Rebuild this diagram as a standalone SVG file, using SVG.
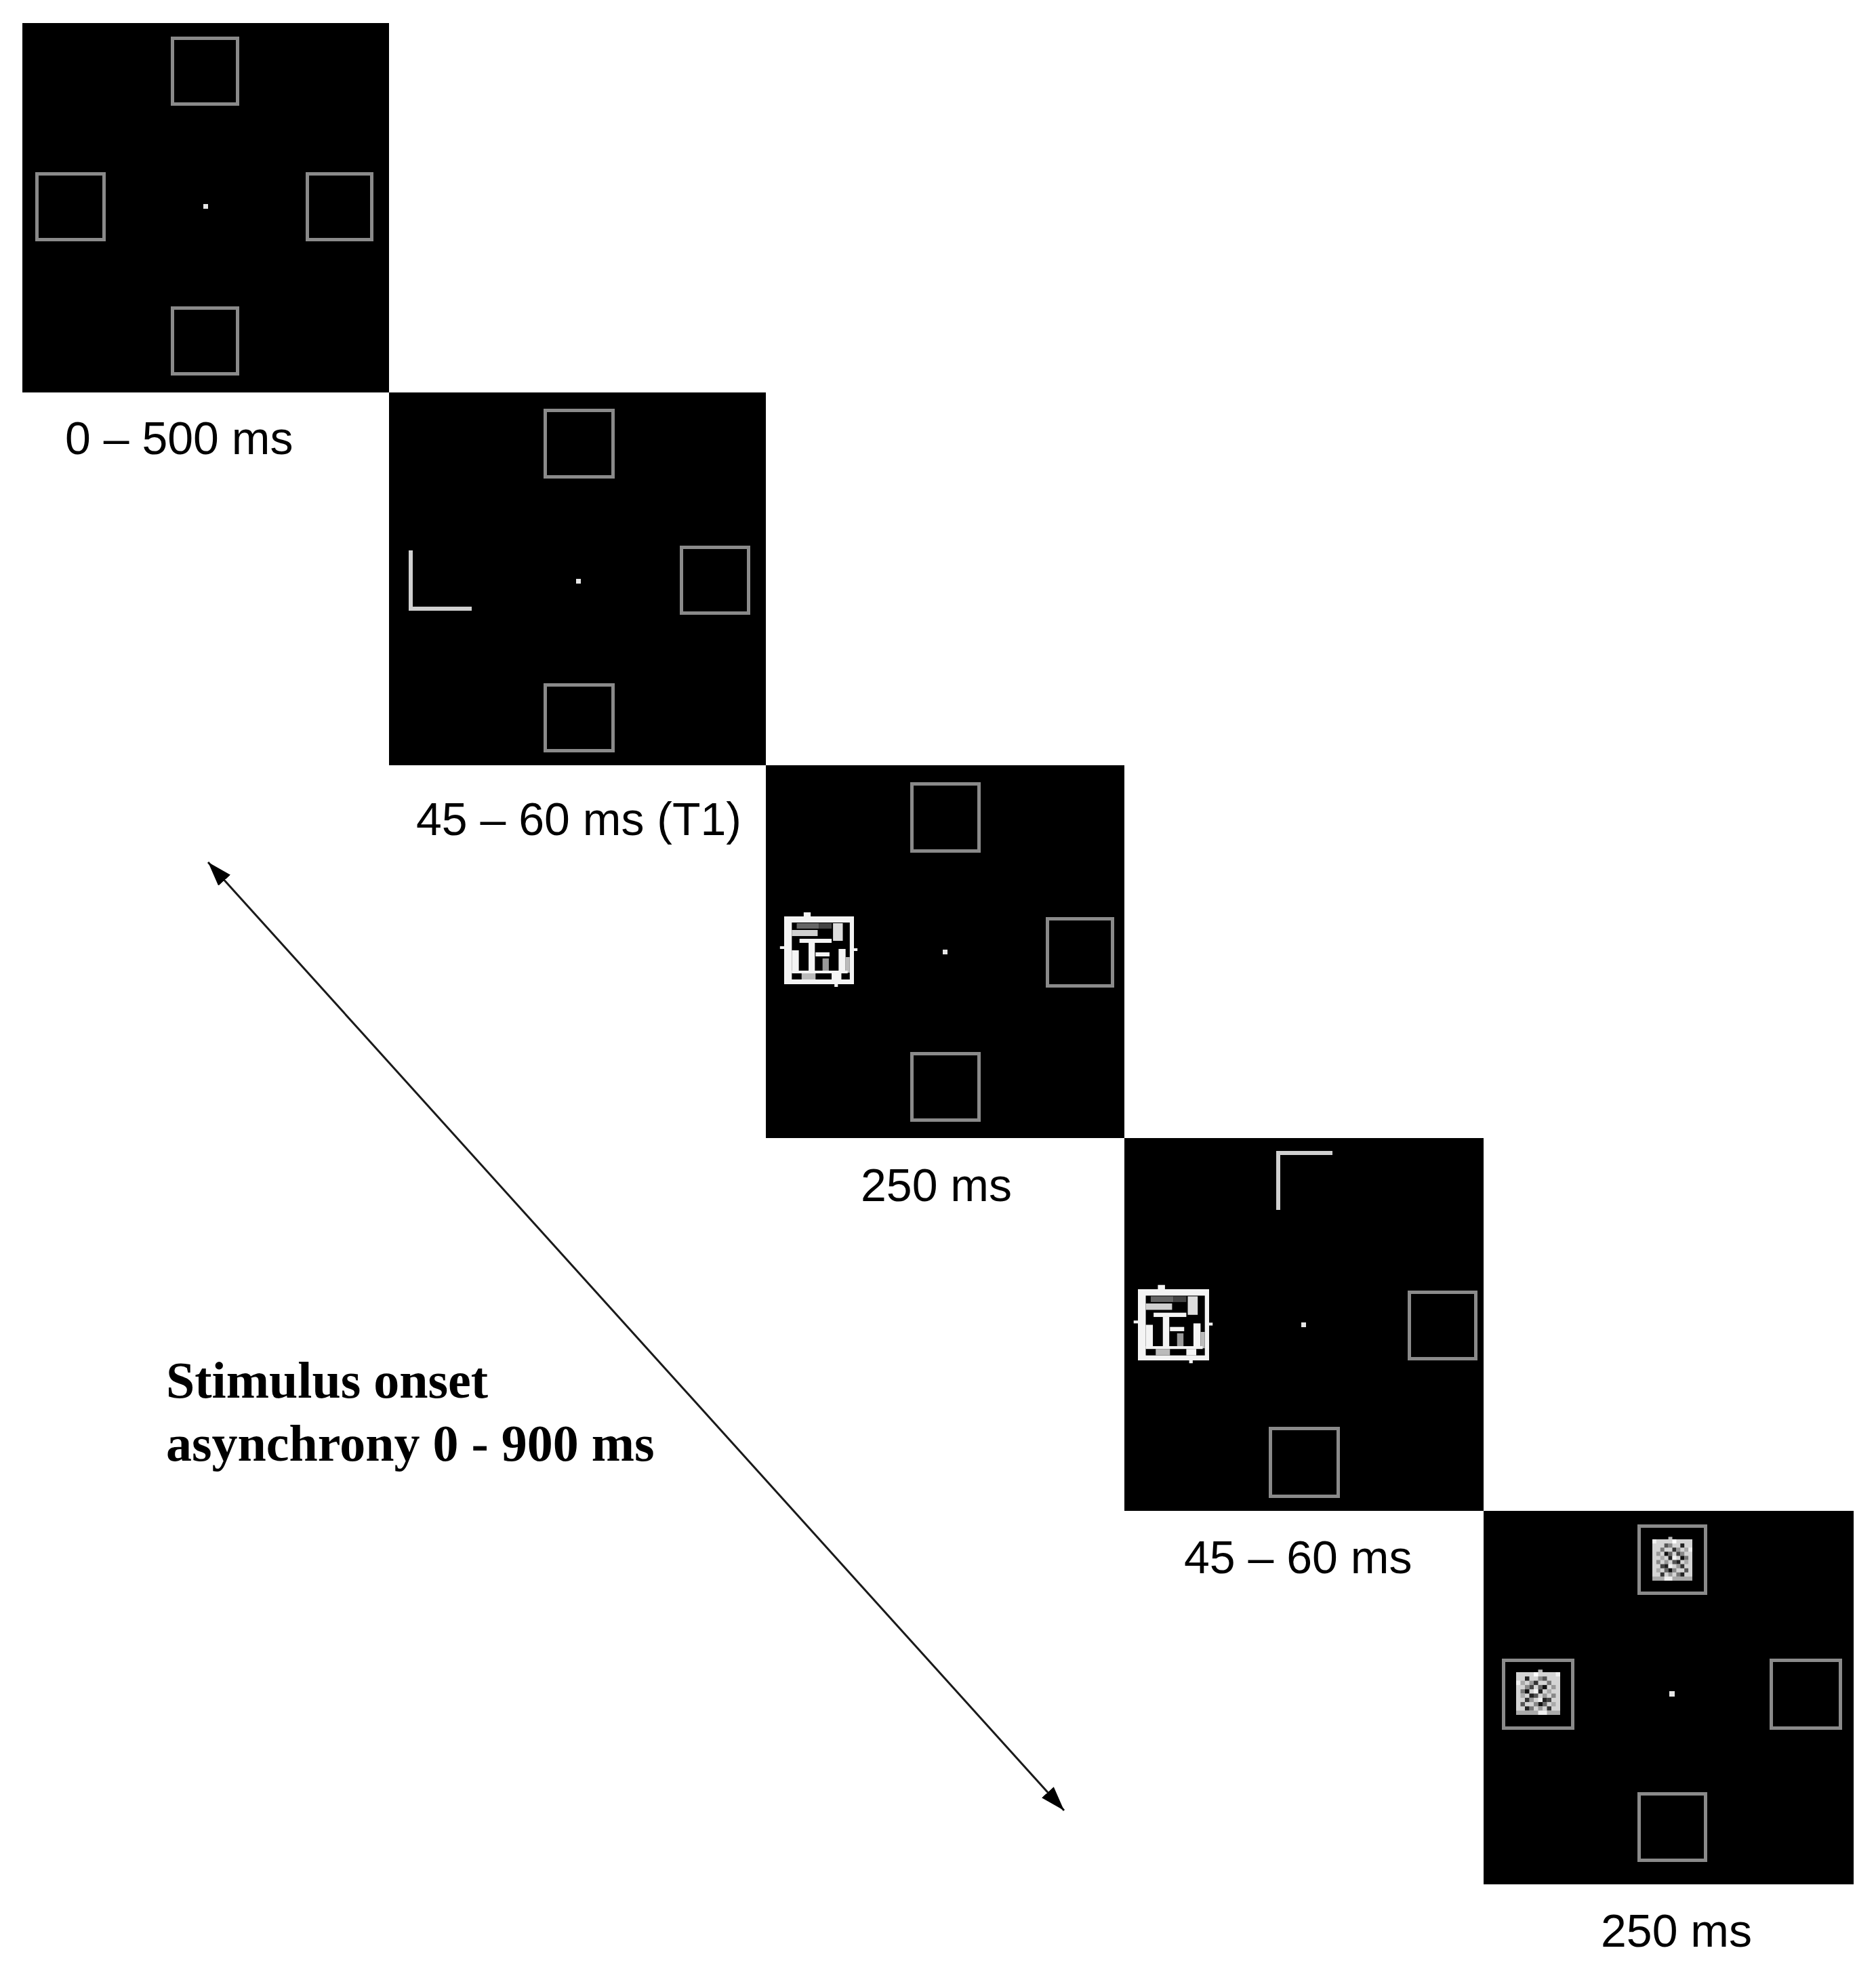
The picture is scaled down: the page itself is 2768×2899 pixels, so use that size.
<svg xmlns="http://www.w3.org/2000/svg" xmlns:xlink="http://www.w3.org/1999/xlink" width="2768" height="2899" viewBox="0 0 2768 2899">
<style>
.bg{fill:#000}
.box{fill:none;stroke:#8a8a8a;stroke-width:5}
.ell{fill:none;stroke:#d0d0d0;stroke-width:6;stroke-linecap:butt}
.dot{fill:#e6e6e6}
.lbl{font-family:"Liberation Sans",Arial,sans-serif;font-size:68px;fill:#000}
.soa{font-family:"Liberation Serif","Times New Roman",serif;font-size:76px;font-weight:bold;fill:#000}
.conn{stroke:#1a1a1a;stroke-width:3;fill:none}
</style>
<defs>
<marker id="ah" markerUnits="userSpaceOnUse" markerWidth="40" markerHeight="28" refX="36" refY="12" orient="auto-start-reverse" viewBox="0 0 40 28">
<path d="M0,0 L36,12 L0,24 Z" fill="#000"/>
</marker>
<g id="maze">
<rect x="0" y="0" width="100" height="100" fill="#f4f4f4"/>
<rect x="28" y="-6" width="10" height="6" fill="#f4f4f4"/>
<rect x="-6" y="44" width="6" height="4" fill="#f4f4f4"/>
<rect x="100" y="47" width="5" height="4" fill="#f4f4f4"/>
<rect x="72" y="100" width="5" height="4" fill="#f4f4f4"/>
<rect x="11" y="9" width="83" height="84" fill="#000"/>
<rect x="18" y="10" width="32" height="8" fill="#666"/>
<rect x="50" y="10" width="18" height="8" fill="#444"/>
<rect x="11" y="20" width="37" height="9" fill="#d0d0d0"/>
<rect x="22" y="33" width="46" height="6" fill="#f4f4f4"/>
<rect x="70" y="10" width="14" height="26" fill="#ddd"/>
<rect x="11" y="50" width="10" height="33" fill="#f4f4f4"/>
<rect x="35" y="39" width="9" height="44" fill="#f4f4f4"/>
<rect x="45" y="53" width="20" height="6" fill="#f4f4f4"/>
<rect x="55" y="62" width="9" height="18" fill="#999"/>
<rect x="78" y="48" width="10" height="35" fill="#f4f4f4"/>
<rect x="88" y="60" width="6" height="23" fill="#bbb"/>
<rect x="11" y="80" width="80" height="4" fill="#f4f4f4"/>
<rect x="25" y="84" width="20" height="9" fill="#bbb"/>
<rect x="68" y="84" width="14" height="9" fill="#f4f4f4"/>
</g>
<g id="noise">
<rect x="0" y="0" width="100" height="100" fill="#d4d4d4"/>
<rect x="40" y="-6" width="10" height="6" fill="#bbb"/>
<rect x="0" y="0" width="10" height="10" fill="#f0f0f0"/>
<rect x="50" y="0" width="10" height="10" fill="#fff"/>
<rect x="90" y="20" width="10" height="10" fill="#eee"/>
<rect x="30" y="10" width="10" height="10" fill="#555"/>
<rect x="40" y="10" width="10" height="10" fill="#888"/>
<rect x="70" y="10" width="10" height="10" fill="#222"/>
<rect x="20" y="20" width="10" height="10" fill="#777"/>
<rect x="50" y="20" width="10" height="10" fill="#333"/>
<rect x="60" y="20" width="10" height="10" fill="#999"/>
<rect x="80" y="20" width="10" height="10" fill="#aaa"/>
<rect x="10" y="30" width="10" height="10" fill="#999"/>
<rect x="30" y="30" width="10" height="10" fill="#111"/>
<rect x="40" y="30" width="10" height="10" fill="#666"/>
<rect x="60" y="30" width="10" height="10" fill="#444"/>
<rect x="70" y="30" width="10" height="10" fill="#888"/>
<rect x="20" y="40" width="10" height="10" fill="#aaa"/>
<rect x="40" y="40" width="10" height="10" fill="#222"/>
<rect x="50" y="40" width="10" height="10" fill="#f4f4f4"/>
<rect x="70" y="40" width="10" height="10" fill="#111"/>
<rect x="80" y="40" width="10" height="10" fill="#777"/>
<rect x="10" y="50" width="10" height="10" fill="#888"/>
<rect x="30" y="50" width="10" height="10" fill="#999"/>
<rect x="50" y="50" width="10" height="10" fill="#555"/>
<rect x="60" y="50" width="10" height="10" fill="#222"/>
<rect x="80" y="50" width="10" height="10" fill="#aaa"/>
<rect x="20" y="60" width="10" height="10" fill="#444"/>
<rect x="30" y="60" width="10" height="10" fill="#222"/>
<rect x="40" y="60" width="10" height="10" fill="#f0f0f0"/>
<rect x="60" y="60" width="10" height="10" fill="#999"/>
<rect x="70" y="60" width="10" height="10" fill="#333"/>
<rect x="10" y="70" width="10" height="10" fill="#aaa"/>
<rect x="30" y="70" width="10" height="10" fill="#666"/>
<rect x="40" y="70" width="10" height="10" fill="#111"/>
<rect x="50" y="70" width="10" height="10" fill="#888"/>
<rect x="80" y="70" width="10" height="10" fill="#555"/>
<rect x="20" y="80" width="10" height="10" fill="#333"/>
<rect x="40" y="80" width="10" height="10" fill="#999"/>
<rect x="60" y="80" width="10" height="10" fill="#777"/>
<rect x="70" y="80" width="10" height="10" fill="#222"/>
<rect x="0" y="90" width="100" height="10" fill="#aaa"/>
<rect x="30" y="90" width="20" height="10" fill="#eee"/>
</g>
</defs>
<rect x="0" y="0" width="2768" height="2899" fill="#fff"/>

<g id="panel1">
<rect class="bg" x="33" y="34" width="541" height="545"/>
<rect class="box" x="254.5" y="56.5" width="96" height="97"/>
<rect class="box" x="54.5" y="256.5" width="99" height="97"/>
<rect class="box" x="453.5" y="256.5" width="95" height="97"/>
<rect class="box" x="254.5" y="454.5" width="96" height="97"/>
<rect class="dot" x="300" y="301" width="7" height="7"/>
<text class="lbl" x="96" y="670">0 – 500 ms</text>
</g>

<g id="panel2">
<rect class="bg" x="574" y="579" width="556" height="550"/>
<rect class="box" x="804.5" y="605.5" width="100" height="98"/>
<path class="ell" d="M606,812 V898 H696"/>
<rect class="box" x="1005.5" y="807.5" width="99" height="97"/>
<rect class="box" x="804.5" y="1010.5" width="100" height="97"/>
<rect class="dot" x="850" y="854" width="7" height="7"/>
<text class="lbl" x="614" y="1232">45 – 60 ms (T1)</text>
</g>

<g id="panel3">
<rect class="bg" x="1130" y="1129" width="529" height="550"/>
<rect class="box" x="1345.5" y="1156.5" width="99" height="99"/>
<use xlink:href="#maze" transform="translate(1157,1352) scale(1.03,1)"/>
<rect class="box" x="1545.5" y="1355.5" width="96" height="99"/>
<rect class="box" x="1345.5" y="1554.5" width="99" height="98"/>
<rect class="dot" x="1391" y="1401" width="7" height="7"/>
<text class="lbl" x="1270" y="1772">250 ms</text>
</g>

<g id="panel4">
<rect class="bg" x="1659" y="1679" width="530" height="550"/>
<path class="ell" d="M1886,1785 V1701 H1966"/>
<use xlink:href="#maze" transform="translate(1679,1902) scale(1.05,1.05)"/>
<rect class="box" x="2079.5" y="1906.5" width="98" height="98"/>
<rect class="box" x="1874.5" y="2107.5" width="100" height="100"/>
<rect class="dot" x="1920" y="1951" width="7" height="7"/>
<text class="lbl" x="1747" y="2321">45 – 60 ms</text>
</g>

<g id="panel5">
<rect class="bg" x="2189" y="2229" width="546" height="551"/>
<rect class="box" x="2418.5" y="2251.5" width="98" height="99"/>
<use xlink:href="#noise" transform="translate(2438,2271) scale(0.59,0.61)"/>
<rect class="box" x="2218.5" y="2449.5" width="102" height="100"/>
<use xlink:href="#noise" transform="translate(2302,2467) scale(-0.65,0.63)"/>
<rect class="box" x="2613.5" y="2449.5" width="102" height="100"/>
<rect class="box" x="2418.5" y="2646.5" width="98" height="98"/>
<rect class="dot" x="2463" y="2495" width="8" height="8"/>
<text class="lbl" x="2362" y="2872">250 ms</text>
</g>

<g id="soa-label">
<text class="soa" x="245" y="2062">Stimulus onset</text>
<text class="soa" x="245" y="2155">asynchrony 0 - 900 ms</text>
</g>

<g id="connectors">
<line class="conn" x1="307" y1="1272" x2="1570" y2="2671" marker-start="url(#ah)" marker-end="url(#ah)"/>
</g>
</svg>
